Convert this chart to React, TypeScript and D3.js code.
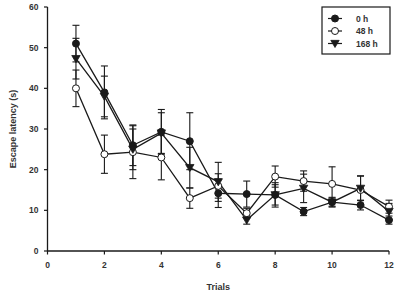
import React from "react";
import * as d3 from "d3";

const trials = [1, 2, 3, 4, 5, 6, 7, 8, 9, 10, 11, 12];
const h0 = [51, 39, 26, 29.3, 27, 14.2, 14, 13.8, 9.7, 12, 11.3, 7.6];
const h0Err = [4.5, 6.5, 5, 5.5, 7, 3.5, 3.2, 2.5, 1, 1.2, 1.2, 1];
const h48 = [40, 23.8, 24.3, 23, 13, 16, 9.3, 18.3, 17.2, 16.5, 15, 10.9];
const h48Err = [4.5, 4.7, 6.5, 5.5, 2.5, 3, 1.2, 2.6, 2.5, 4.2, 3.5, 1.6];
const h168 = [47.3, 38, 25, 29, 20.5, 17, 7.6, 13.8, 15.4, 12, 15.4, 9.7];
const h168Err = [5, 5, 5, 5, 5, 4.8, 1, 3, 3.5, 1, 3, 2];
const xTicks = [0, 2, 4, 6, 8, 10, 12];
const yTicks = [0, 10, 20, 30, 40, 50, 60];
const seriesNames = ["0 h", "48 h", "168 h"];

const series = [
  { name: seriesNames[0], values: h0, err: h0Err, marker: "filled" },
  { name: seriesNames[1], values: h48, err: h48Err, marker: "open" },
  { name: seriesNames[2], values: h168, err: h168Err, marker: "tri" },
];

const INK = "#1a1a1a";
const FONT = "Liberation Sans, Arial, sans-serif";

function Marker({ type, x, y }: { type: string; x: number; y: number }) {
  if (type === "tri") {
    const s = 4.2;
    return (
      <path
        d={`M${x - s},${y - s * 0.75} L${x + s},${y - s * 0.75} L${x},${y + s * 0.95} Z`}
        fill={INK}
        stroke={INK}
        strokeWidth={0.8}
      />
    );
  }
  return (
    <circle
      cx={x}
      cy={y}
      r={3.5}
      fill={type === "filled" ? INK : "#fff"}
      stroke={INK}
      strokeWidth={1}
    />
  );
}

export default function App() {
  const W = 401;
  const H = 295;
  const x = d3.scaleLinear().domain([0, 12]).range([47.5, 389]);
  const y = d3.scaleLinear().domain([0, 60]).range([251, 7]);
  const line = d3
    .line<number>()
    .x((_, i) => x(trials[i]))
    .y((d) => y(d));
  const cap = 3.5;

  return (
    <svg
      width={W}
      height={H}
      style={{ position: "absolute", left: 0, top: 0, background: "#fff" }}
      fontFamily={FONT}
    >
      <rect width={W} height={H} fill="#fff" />
      {/* axes */}
      <line x1={x(0)} x2={x(0)} y1={y(60)} y2={y(0)} stroke={INK} strokeWidth={1.3} />
      <line x1={x(0)} x2={x(12)} y1={y(0)} y2={y(0)} stroke={INK} strokeWidth={1.3} />
      {yTicks.map((t) => (
        <g key={"y" + t}>
          <line x1={x(0) - 3.5} x2={x(0)} y1={y(t)} y2={y(t)} stroke={INK} strokeWidth={1.2} />
          <text
            x={x(0) - 9}
            y={y(t)}
            textAnchor="end"
            dominantBaseline="central"
            fontSize={8.5}
            fontWeight="bold"
            fill="#333"
          >
            {t}
          </text>
        </g>
      ))}
      {xTicks.map((t) => (
        <g key={"x" + t}>
          <line x1={x(t)} x2={x(t)} y1={y(0)} y2={y(0) + 3.5} stroke={INK} strokeWidth={1.2} />
          <text
            x={x(t)}
            y={y(0) + 17}
            textAnchor="middle"
            fontSize={8.5}
            fontWeight="bold"
            fill="#333"
          >
            {t}
          </text>
        </g>
      ))}
      <text
        transform={`translate(13,${(y(0) + y(60)) / 2}) rotate(-90)`}
        textAnchor="middle"
        dominantBaseline="central"
        fontSize={9}
        fontWeight="bold"
        fill="#333"
      >
        Escape latency (s)
      </text>
      <text
        x={(x(0) + x(12)) / 2}
        y={290}
        textAnchor="middle"
        fontSize={9}
        fontWeight="bold"
        fill="#333"
      >
        Trials
      </text>

      {/* error bars */}
      {series.map((s) =>
        s.values.map((v, i) => {
          const cx = x(trials[i]);
          const top = y(v + s.err[i]);
          const bot = y(v - s.err[i]);
          return (
            <g key={s.name + "e" + i} stroke={INK} strokeWidth={1.1}>
              <line x1={cx} x2={cx} y1={top} y2={bot} />
              <line x1={cx - cap} x2={cx + cap} y1={top} y2={top} />
              <line x1={cx - cap} x2={cx + cap} y1={bot} y2={bot} />
            </g>
          );
        })
      )}
      {/* lines */}
      {series.map((s) => (
        <path key={s.name + "l"} d={line(s.values) || ""} fill="none" stroke={INK} strokeWidth={1.3} />
      ))}
      {/* markers */}
      {series.map((s) =>
        s.values.map((v, i) => (
          <Marker key={s.name + "m" + i} type={s.marker} x={x(trials[i])} y={y(v)} />
        ))
      )}

      {/* legend */}
      <rect x={322} y={7} width={68} height={47} fill="#fff" stroke={INK} strokeWidth={1.2} />
      {series.map((s, i) => {
        const ly = 18.5 + i * 12.5;
        return (
          <g key={s.name + "leg"}>
            <line x1={328} x2={342} y1={ly} y2={ly} stroke={INK} strokeWidth={1.2} />
            <Marker type={s.marker} x={335} y={ly} />
            <text x={356} y={ly} dominantBaseline="central" fontSize={8.5} fontWeight="bold" fill="#333">
              {s.name}
            </text>
          </g>
        );
      })}
    </svg>
  );
}
